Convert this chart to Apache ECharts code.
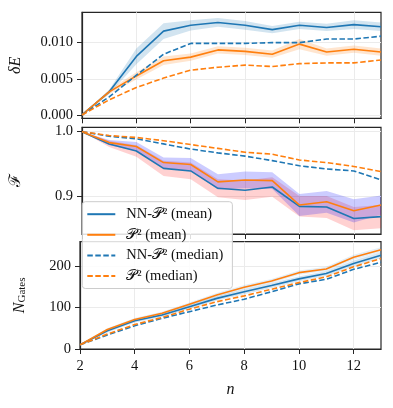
<!DOCTYPE html>
<html>
<head>
<meta charset="utf-8">
<script src="https://cdn.jsdelivr.net/npm/echarts@6/dist/echarts.min.js"></script>
<style>html,body{margin:0;padding:0;background:#fff}#c{width:393px;height:408px}</style>
</head>
<body>
<div id="c"></div>
<script>
const nValues = [2, 3, 4, 5, 6, 7, 8, 9, 10, 11, 12, 13];
const xTicks = [2, 4, 6, 8, 10, 12];

const dE_nn_mean = [0, 0.0032, 0.0081, 0.0116, 0.0124, 0.0128, 0.0124, 0.0118, 0.0124, 0.0121, 0.0125, 0.0122];
const dE_nn_err  = [0, 0.0003, 0.0011, 0.0011, 0.0007, 0.0006, 0.0006, 0.0005, 0.0005, 0.0005, 0.0006, 0.0006];
const dE_p2_mean = [0, 0.0032, 0.0054, 0.0075, 0.0080, 0.0090, 0.0088, 0.0084, 0.0098, 0.0087, 0.0091, 0.0087];
const dE_p2_err  = [0, 0.0003, 0.0005, 0.0006, 0.0005, 0.0005, 0.0005, 0.0005, 0.0007, 0.0005, 0.0005, 0.0005];
const dE_nn_med  = [0, 0.0025, 0.0055, 0.0084, 0.0099, 0.0099, 0.0099, 0.0100, 0.0100, 0.0105, 0.0105, 0.0109];
const dE_p2_med  = [0, 0.0021, 0.0038, 0.0051, 0.0062, 0.0066, 0.0069, 0.0067, 0.0071, 0.0072, 0.0072, 0.0076];
const dE_ticks = [0, 0.005, 0.010];

const F_nn_mean = [1.0, 0.981, 0.970, 0.943, 0.939, 0.912, 0.909, 0.914, 0.884, 0.883, 0.865, 0.868];
const F_nn_err  = [0, 0.005, 0.009, 0.012, 0.013, 0.014, 0.015, 0.015, 0.016, 0.017, 0.018, 0.018];
const F_p2_mean = [1.0, 0.983, 0.977, 0.952, 0.949, 0.922, 0.925, 0.924, 0.886, 0.891, 0.877, 0.886];
const F_p2_err  = [0, 0.004, 0.007, 0.008, 0.010, 0.012, 0.013, 0.013, 0.017, 0.017, 0.018, 0.015];
const F_nn_med  = [1.0, 0.993, 0.989, 0.981, 0.973, 0.967, 0.962, 0.955, 0.947, 0.942, 0.939, 0.925];
const F_p2_med  = [1.0, 0.994, 0.991, 0.986, 0.980, 0.974, 0.968, 0.965, 0.956, 0.952, 0.946, 0.938];
const F_ticks = [0.9, 1.0];

const G_nn_mean = [10, 44, 68, 82, 102, 122, 138, 153, 169, 182, 206, 226];
const G_nn_err  = [2, 4, 4, 5, 5, 5, 6, 6, 6, 6, 7, 7];
const G_p2_mean = [10, 47, 71, 86, 108, 130, 149, 164, 184, 193, 221, 239];
const G_p2_err  = [2, 3, 4, 4, 4, 5, 5, 5, 5, 5, 6, 6];
const G_nn_med  = [10, 34, 56, 74, 90, 106, 120, 138, 157, 168, 192, 209];
const G_p2_med  = [10, 36, 59, 76, 96, 114, 128, 144, 160, 174, 198, 218];
const G_ticks = [0, 100, 200];

const names = ['NN-\u{1D4AB}\u00B2 (mean)', '\u{1D4AB}\u00B2 (mean)', 'NN-\u{1D4AB}\u00B2 (median)', '\u{1D4AB}\u00B2 (median)'];
const C0 = '#1f77b4', C1 = '#ff7f0e';
const FONT = 'Liberation Serif';
const AX = '#262626';

function pts(ys) { return nValues.map((x, i) => [x, ys[i]]); }

function band(idx, mean, err, color) {
  return {
    type: 'custom', xAxisIndex: idx, yAxisIndex: idx, silent: true, z: 1, clip: true,
    data: [[nValues[0], mean[0]]], encode: { x: 0, y: 1 },
    renderItem: function (params, api) {
      const up = nValues.map((x, i) => api.coord([x, mean[i] + err[i]]));
      const dn = nValues.map((x, i) => api.coord([x, mean[i] - err[i]])).reverse();
      return { type: 'polygon', shape: { points: up.concat(dn) }, style: { fill: color, stroke: null } };
    }
  };
}
function line(idx, name, ys, color, dashed) {
  return { type: 'line', name: name, xAxisIndex: idx, yAxisIndex: idx, data: pts(ys), symbol: 'none',
    lineStyle: { color: color, width: 1.6, type: dashed ? [5.5, 2.5] : 'solid' }, itemStyle: { color: color }, z: 3 };
}

const grids = [
  { left: 80, right: 12, top: 12.3, height: 106 },
  { left: 80, right: 12, top: 127.3, height: 106.7 },
  { left: 80, right: 12, top: 241.7, height: 107.3 }
].map(g => Object.assign(g, { show: true, borderColor: AX, borderWidth: 1.2, backgroundColor: 'transparent', containLabel: false }));

function xAxis(idx, showLabels) {
  return {
    type: 'value', gridIndex: idx, min: 2, max: 13, interval: 2,
    axisLine: { show: true, onZero: false, lineStyle: { color: AX, width: 1.2 } },
    axisTick: { show: true, length: 5, customValues: xTicks, lineStyle: { color: AX, width: 1 } },
    axisLabel: { show: showLabels, customValues: xTicks, fontFamily: FONT, fontSize: 14.5, color: '#111', margin: 10 },
    splitLine: { show: true, lineStyle: { color: '#ebebeb', width: 1 } },
    name: showLabels ? 'n' : '', nameLocation: 'middle', nameGap: 33,
    nameTextStyle: { fontFamily: FONT, fontStyle: 'italic', fontSize: 16, color: '#111' }
  };
}
function yAxis(idx, min, max, step, ticks, fmt, name, nameGap, rich) {
  return {
    type: 'value', gridIndex: idx, min: min, max: max, minInterval: step, maxInterval: step,
    axisLine: { show: true, onZero: false, lineStyle: { color: AX, width: 1.2 } },
    axisTick: { show: true, length: 5, customValues: ticks, lineStyle: { color: AX, width: 1 } },
    axisLabel: { customValues: ticks, formatter: fmt, fontFamily: FONT, fontSize: 14.5, color: '#111', margin: 9 },
    splitLine: { show: true, lineStyle: { color: '#ebebeb', width: 1 } },
    name: name, nameLocation: 'middle', nameRotate: 90, nameGap: nameGap,
    nameTextStyle: Object.assign({ fontFamily: FONT, fontSize: 16, color: '#111' }, rich || {})
  };
}

const series = [
  band(0, dE_nn_mean, dE_nn_err, 'rgba(31,119,180,0.2)'),
  band(0, dE_p2_mean, dE_p2_err, 'rgba(255,127,14,0.2)'),
  band(1, F_nn_mean, F_nn_err, 'rgba(255,0,0,0.18)'),
  band(1, F_p2_mean, F_p2_err, 'rgba(0,0,255,0.2)'),
  band(2, G_nn_mean, G_nn_err, 'rgba(31,119,180,0.18)'),
  band(2, G_p2_mean, G_p2_err, 'rgba(31,119,180,0.12)'),
  line(0, names[0], dE_nn_mean, C0, false), line(0, names[1], dE_p2_mean, C1, false),
  line(0, names[2], dE_nn_med, C0, true), line(0, names[3], dE_p2_med, C1, true),
  line(1, names[0], F_nn_mean, C0, false), line(1, names[1], F_p2_mean, C1, false),
  line(1, names[2], F_nn_med, C0, true), line(1, names[3], F_p2_med, C1, true),
  line(2, names[0], G_nn_mean, C0, false), line(2, names[1], G_p2_mean, C1, false),
  line(2, names[2], G_nn_med, C0, true), line(2, names[3], G_p2_med, C1, true)
];

const option = {
  animation: false,
  backgroundColor: '#fff',
  grid: grids,
  xAxis: [xAxis(0, false), xAxis(1, false), xAxis(2, true)],
  yAxis: [
    yAxis(0, -0.00046, 0.0142, 0.005, dE_ticks, v => v.toFixed(3), '{i|\u03B4E}', 58,
      { rich: { i: { fontFamily: FONT, fontStyle: 'italic', fontSize: 16, color: '#111' } } }),
    yAxis(1, 0.841, 1.0068, 0.1, F_ticks, v => v.toFixed(1), '\u2131', 58),
    yAxis(2, 0, 258.6, 100, G_ticks, v => String(Math.round(v)), '{i|N}{s|Gates}', 52,
      { rich: { i: { fontFamily: FONT, fontStyle: 'italic', fontSize: 16, color: '#111', verticalAlign: 'bottom', lineHeight: 18 },
                s: { fontFamily: FONT, fontSize: 11, color: '#111', verticalAlign: 'bottom', lineHeight: 14 } } })
  ],
  legend: {
    data: names, orient: 'vertical', left: 82.3, top: 201.7, width: 151,
    padding: [5, 9, 5, 4], itemGap: 5.6, itemWidth: 28, itemHeight: 14,
    itemStyle: { opacity: 0 },
    backgroundColor: 'rgba(255,255,255,0.85)', borderColor: '#cccccc', borderWidth: 1, borderRadius: 3,
    textStyle: { fontFamily: FONT, fontSize: 14.5, color: '#111', padding: [0, 0, 0, 6] },
    z: 10
  },
  series: series
};
echarts.init(document.getElementById('c'), null, { renderer: 'canvas' }).setOption(option);
</script>
</body>
</html>
